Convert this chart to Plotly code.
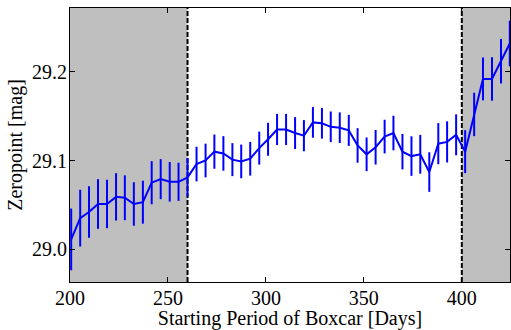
import plotly.graph_objects as go

# Boxcar starting period (days)
days = [200.6, 205.2, 209.7, 214.3, 218.9, 223.5, 228.0, 232.6, 237.2, 241.7,
        246.3, 250.9, 255.4, 260.0, 264.6, 269.2, 273.7, 278.3, 282.9, 287.4,
        292.0, 296.6, 301.1, 305.7, 310.3, 314.9, 319.4, 324.0, 328.6, 333.1,
        337.7, 342.3, 346.8, 351.4, 356.0, 360.6, 365.1, 369.7, 374.3, 378.8,
        383.4, 388.0, 392.5, 397.1, 401.7, 406.3, 410.8, 415.4, 420.0, 424.5]

# Fitted zeropoint (mag)
zeropoint = [29.011, 29.035, 29.042, 29.051, 29.051, 29.059, 29.058, 29.051, 29.053, 29.075,
             29.079, 29.076, 29.076, 29.081, 29.096, 29.100, 29.110, 29.108, 29.101, 29.099,
             29.102, 29.114, 29.124, 29.135, 29.135, 29.131, 29.128, 29.143, 29.142, 29.138,
             29.137, 29.134, 29.117, 29.107, 29.115, 29.127, 29.131, 29.110, 29.105, 29.107,
             29.087, 29.119, 29.121, 29.129, 29.110, 29.152, 29.192, 29.192, 29.212, 29.232]

# 1-sigma uncertainty (mag)
zeropoint_err = [0.0348, 0.0320, 0.0290, 0.0280, 0.0273, 0.0267, 0.0253, 0.0245, 0.0242, 0.0243,
                 0.0226, 0.0223, 0.0215, 0.0217, 0.0195, 0.0190, 0.0193, 0.0195, 0.0186, 0.0190,
                 0.0190, 0.0186, 0.0186, 0.0176, 0.0176, 0.0180, 0.0176, 0.0173, 0.0173, 0.0173,
                 0.0173, 0.0175, 0.0195, 0.0190, 0.0195, 0.0190, 0.0195, 0.0200, 0.0223, 0.0219,
                 0.0223, 0.0232, 0.0232, 0.0231, 0.0242, 0.0245, 0.0242, 0.0245, 0.0251, 0.0256]

# Excluded windows and their boundaries
shaded_spans = [(200.0, 260.0), (400.0, 424.6)]
boundaries = [260.0, 400.0]

x_range = [200.0, 424.6]
y_range = [28.963, 29.272]
x_ticks = [200, 250, 300, 350, 400]
y_ticks = [29.0, 29.1, 29.2]

serif = "Liberation Serif, Times New Roman, serif"

fig = go.Figure()
fig.add_trace(go.Scatter(
    x=days, y=zeropoint, mode="lines",
    line=dict(color="#0000ff", width=2),
    error_y=dict(type="data", array=zeropoint_err, visible=True,
                 color="#0000ff", thickness=2, width=0),
    showlegend=False,
))

for x0, x1 in shaded_spans:
    fig.add_shape(type="rect", xref="x", yref="paper", x0=x0, x1=x1, y0=0, y1=1,
                  fillcolor="#bfbfbf", line=dict(width=0), layer="below")
for xb in boundaries:
    fig.add_shape(type="line", xref="x", yref="paper", x0=xb, x1=xb, y0=0, y1=1,
                  line=dict(color="black", width=2, dash="5px,2px"), layer="below")

axis_common = dict(
    showgrid=False, zeroline=False, showline=True, linecolor="black", linewidth=1,
    mirror="ticks", ticks="inside", ticklen=5, tickwidth=1, tickcolor="black",
    tickfont=dict(family=serif, size=20, color="black"),
    ticklabelstandoff=-2,
)

fig.update_xaxes(range=x_range, tickvals=x_ticks, ticktext=[str(t) for t in x_ticks],
                 title=dict(text="Starting Period of Boxcar [Days]",
                            font=dict(family=serif, size=20, color="black"), standoff=7),
                 **axis_common)
fig.update_yaxes(range=y_range, tickvals=y_ticks, ticktext=[f"{t:.1f}" for t in y_ticks],
                 title=dict(text="Zeropoint [mag]",
                            font=dict(family=serif, size=20, color="black"), standoff=4),
                 **axis_common)

fig.update_layout(
    width=511, height=330,
    margin=dict(l=70, r=0, t=8, b=45, pad=0),
    plot_bgcolor="white", paper_bgcolor="white",
)

fig.write_html("out.html")
